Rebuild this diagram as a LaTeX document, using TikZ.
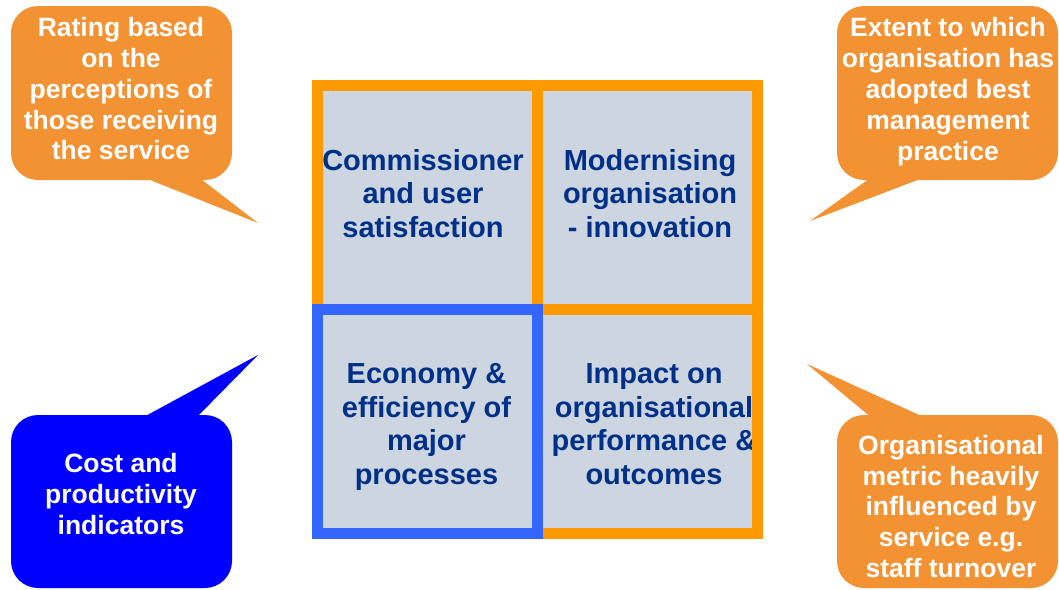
\documentclass[tikz,border=0pt]{standalone}
\usepackage{fontspec}
\setmainfont{Liberation Sans}
\definecolor{callorange}{RGB}{242,146,51}
\definecolor{callblue}{RGB}{0,0,255}
\definecolor{gridorange}{RGB}{255,153,0}
\definecolor{gridblue}{RGB}{51,102,255}
\definecolor{cellgray}{RGB}{205,213,225}
\definecolor{navy}{RGB}{0,48,135}
\begin{document}
\begin{tikzpicture}[x=1pt,y=-1pt,
  cell/.style={rectangle, fill=cellgray, inner sep=0pt, minimum width=220pt},
  celltext/.style={font=\bfseries\fontsize{29}{33.5}\selectfont, text=navy, align=center, inner sep=0pt},
  callbox/.style={rectangle, rounded corners=27pt, minimum width=221pt, inner sep=0pt},
  calltext/.style={font=\bfseries\fontsize{26.5}{30.8}\selectfont, text=white, align=center, inner sep=0pt},
  gridline/.style={line width=11pt, line join=miter}]
\useasboundingbox (0,0) rectangle (1059,589);

% cells
\node[cell, minimum height=224pt] (ctl) at (427.5,197.5) {};
\node[cell, minimum height=224pt] (ctr) at (647.5,197.5) {};
\node[cell, minimum height=223.5pt] (cbl) at (427.5,421.25) {};
\node[cell, minimum height=223.5pt] (cbr) at (647.5,421.25) {};

% cell texts
\node[celltext] (ttl) at (423,193.5) {Commissioner\\and user\\satisfaction};
\node[celltext] (ttr) at (650,193.5) {Modernising\\organisation\\- innovation};
\node[celltext] (tbl) at (426.5,427) {Economy \&\\efficiency of\\major\\processes};
\node[celltext] (tbr) at (654,424) {Impact on\\organisational\\performance \&\\outcomes};

% borders
\draw[gridline, gridorange] (ctl.north west) rectangle (ctl.south east);
\draw[gridline, gridorange] (ctr.north west) rectangle (ctr.south east);
\draw[gridline, gridorange] (cbr.north west) rectangle (cbr.south east);
\draw[gridline, gridblue] (cbl.north west) rectangle (cbl.south east);

% callout boxes
\node[callbox, fill=callorange, minimum height=174pt] (b1) at (121.5,93) {};
\node[callbox, fill=callorange, minimum height=174pt] (b2) at (947.5,93) {};
\node[callbox, fill=callblue, minimum height=173pt] (b3) at (121.5,501.5) {};
\node[callbox, fill=callorange, minimum height=173pt] (b4) at (947.5,501.5) {};

% tails
\coordinate (p1) at (258,223);
\coordinate (p2) at (810,221);
\coordinate (p3) at (258,355);
\coordinate (p4) at (807,364);
\fill[callorange] (140,176) -- (p1) -- (197,176) -- cycle;
\fill[callorange] (873,176) -- (p2) -- (928,176) -- cycle;
\fill[callblue] (140,419) -- (p3) -- (195,419) -- cycle;
\fill[callorange] (873,419) -- (p4) -- (928,419) -- cycle;

% callout texts
\node[calltext] (l1) at (121,88.8) {Rating based\\on the\\perceptions of\\those receiving\\the service};
\node[calltext] (l2) at (948,91.7) {Extent to which\\organisation has\\adopted best\\management\\practice};
\node[calltext] (l3) at (121,494) {Cost and\\productivity\\indicators};
\node[calltext] (l4) at (951,506.5) {Organisational\\metric heavily\\influenced by\\service e.g.\\staff turnover};
\end{tikzpicture}
\end{document}
